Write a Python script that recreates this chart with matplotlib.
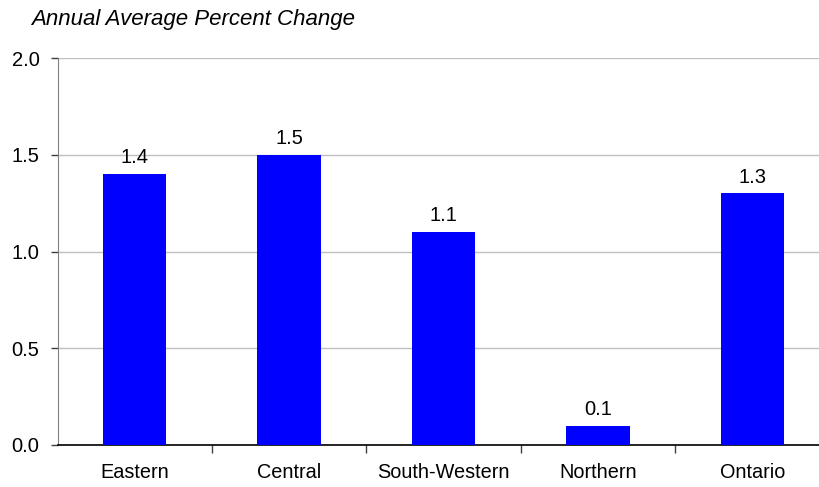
import numpy as np
import matplotlib
matplotlib.use("Agg")
import matplotlib.pyplot as plt

plt.rcParams['font.family'] = ['Liberation Sans', 'DejaVu Sans']

regions = ["Eastern", "Central", "South-Western", "Northern", "Ontario"]
values = [1.4, 1.5, 1.1, 0.1, 1.3]
y_ticks = [0.0, 0.5, 1.0, 1.5, 2.0]

fig = plt.figure(figsize=(8.2, 4.87), dpi=100)
# the original chart is cut off at the right edge, so the axes run past the figure
ax = fig.add_axes([57.5 / 820, 42 / 487, 772 / 820, 387 / 487])

x = np.arange(len(regions))
bars = ax.bar(x, values, width=0.41, color="#0000FF", zorder=3)

for xi, v in zip(x, values):
    ax.annotate(f"{v:.1f}", (xi, v), xytext=(0, 5), textcoords="offset points",
                ha="center", va="bottom", fontsize=14.5, color="#000000")

ax.set_xlim(-0.5, len(regions) - 0.5)
ax.set_ylim(0, 2.0)
ax.set_yticks(y_ticks)
ax.set_yticklabels([f"{t:.1f}" for t in y_ticks])
ax.yaxis.grid(True, color="#c0c0c0", linewidth=1, zorder=0)

ax.set_xticks(x)
ax.set_xticklabels(regions)
ax.set_xticks(np.arange(0.5, len(regions) - 0.5, 1), minor=True)
ax.tick_params(axis="x", which="major", length=0, pad=13, labelsize=14.3)
ax.tick_params(axis="x", which="minor", length=6, width=1, color="#404040", direction="out")
ax.tick_params(axis="y", length=5, width=1, color="#404040", labelsize=14.5, pad=8)

for s in ["top", "right"]:
    ax.spines[s].set_visible(False)
ax.spines["left"].set_color("#808080")
ax.spines["bottom"].set_color("#000000")
ax.spines["bottom"].set_linewidth(1.2)

fig.text(31 / 820, 1 - 20 / 487, "Annual Average Percent Change", fontsize=16,
         style="italic", ha="left", va="center")

fig.savefig("out.png", dpi=100)
